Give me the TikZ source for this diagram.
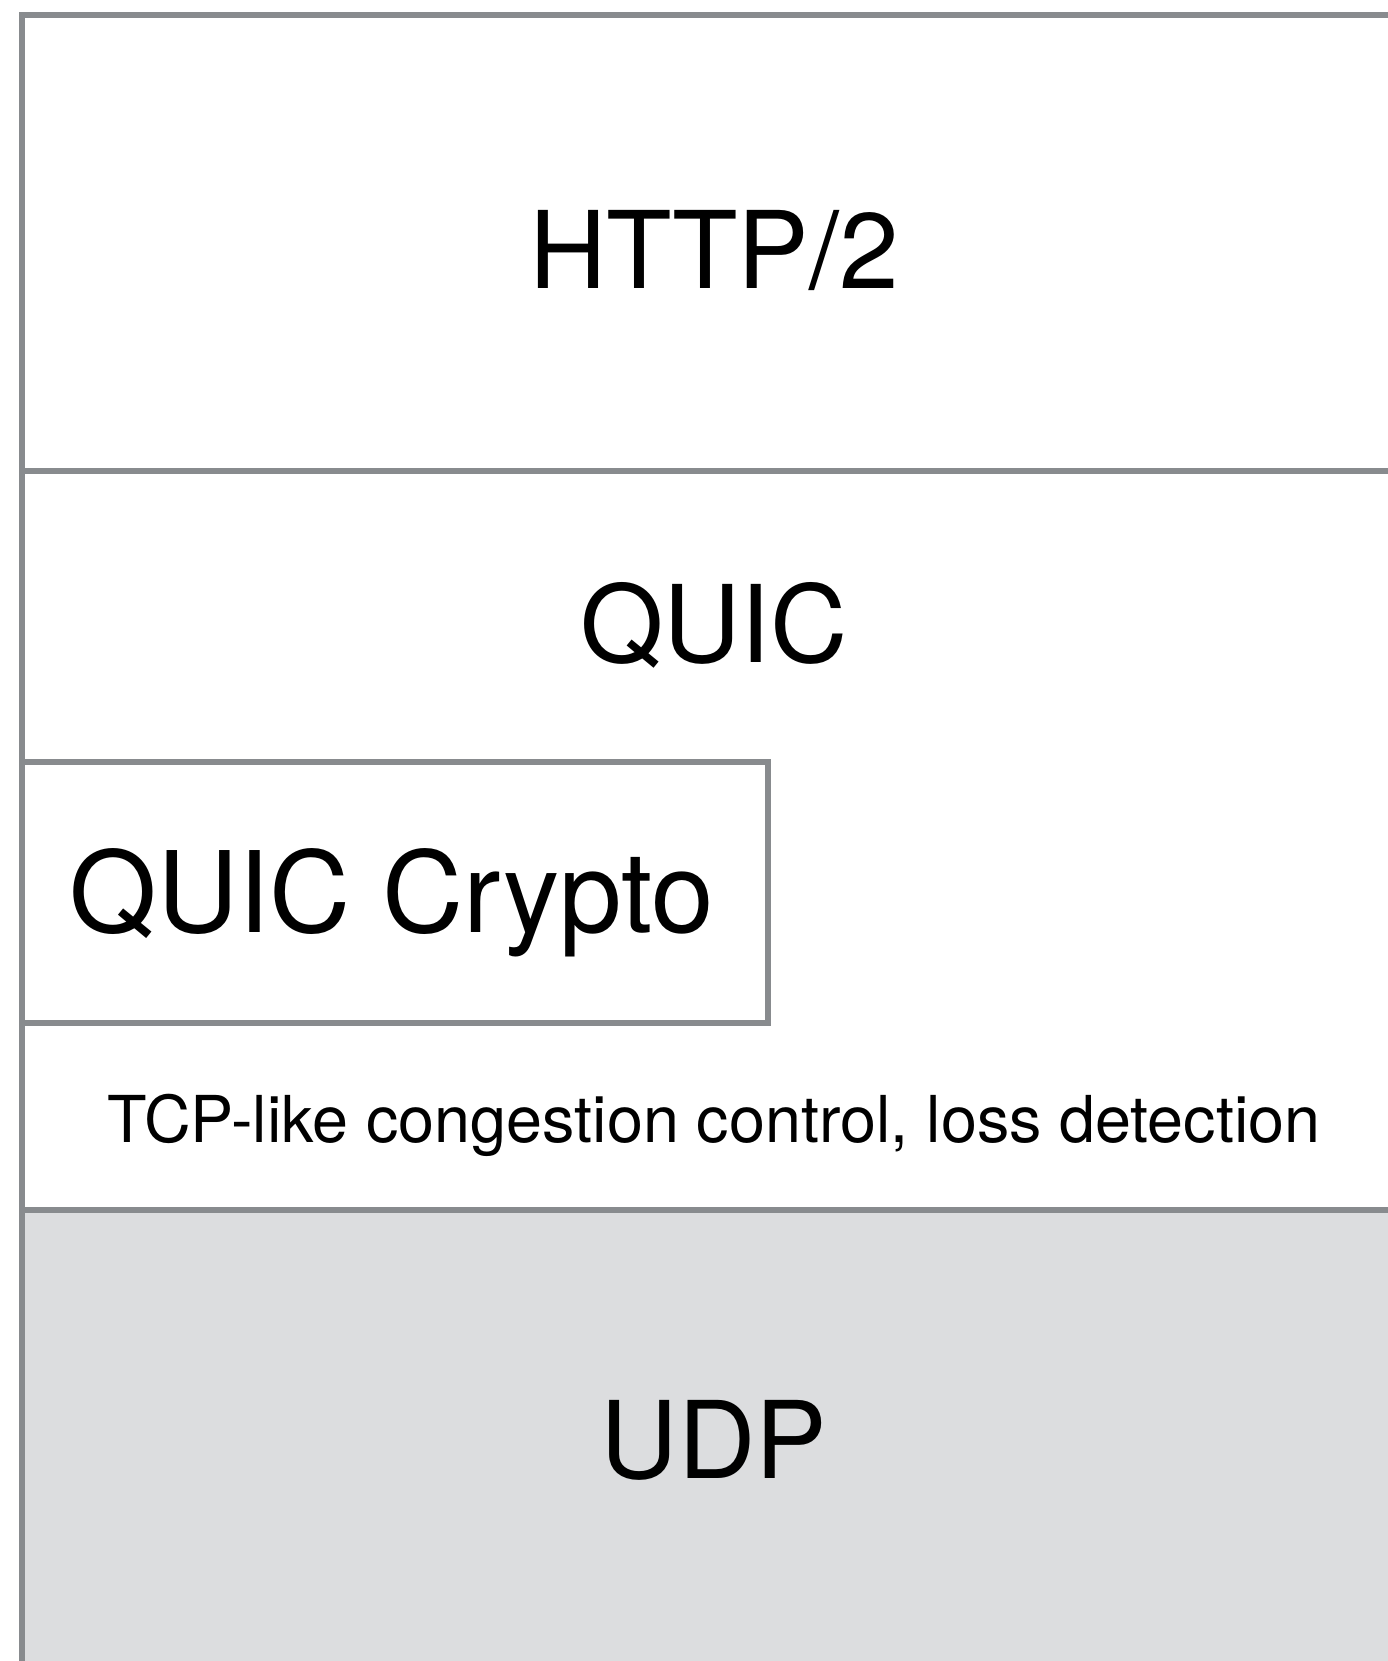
\documentclass[tikz,border=0pt]{standalone}
\usepackage{fontspec}
\setmainfont{TeX Gyre Heros}
\usetikzlibrary{positioning}
\definecolor{lineclr}{RGB}{136,139,142}
\definecolor{udpclr}{RGB}{220,221,223}
\tikzset{ %
  ,every node/.style={inner sep=0}
  ,layer/.style={draw=lineclr, line width=1.6pt, rectangle, anchor=north west}
  ,big/.style={font=\fontsize{30.5}{34}\selectfont, anchor=base}
  ,small/.style={font=\fontsize{18.4}{22}\selectfont, anchor=base}
}

\begin{document}
\begin{tikzpicture}[x=0.1mm, y=-0.1mm]
  \useasboundingbox (0,0) rectangle (1388,1661);
  \clip (0,0) rectangle (1388,1661);
  % layer boxes
  \node[layer, minimum width=138.8mm, minimum height=73.9mm] (quic) at (19,468) {};
  \node[layer, minimum width=74.6mm, minimum height=26.1mm] (crypto) at (19,759) {};
  \node[layer, minimum width=138.8mm, minimum height=45.6mm] (http) at (19,12) {};
  \node[layer, fill=udpclr, minimum width=138.8mm, minimum height=46.2mm] (udp) at (19,1207) {};
  % labels
  \node[big] (httplbl) at (714,288) {HTTP/2};
  \node[big] (quiclbl) at (714,662) {QUIC};
  \node[big, font=\fontsize{32}{36}\selectfont] (cryptolbl) at (392,932) {QUIC Crypto};
  \node[small] (tcplbl) at (714,1142) {TCP-like congestion control, loss detection};
  \node[big] (udplbl) at (714,1478) {UDP};
\end{tikzpicture}
\end{document}
